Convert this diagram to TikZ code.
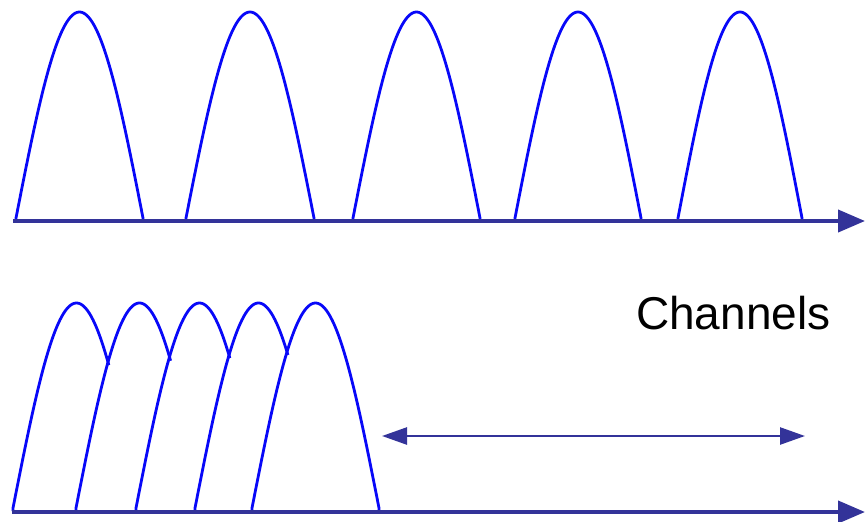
\documentclass[tikz,border=0pt]{standalone}
\usepackage{fontspec}
\setmainfont{Liberation Sans}
\usetikzlibrary{arrows.meta}
\definecolor{axisblue}{HTML}{333399}
\definecolor{pulseblue}{HTML}{0808F8}
\tikzset{
  axisline/.style={draw=axisblue,line width=4pt,-{Triangle[length=27pt,width=22pt]}},
  dblarrow/.style={draw=axisblue,line width=2.5pt,{Triangle[length=25pt,width=17pt]}-{Triangle[length=25pt,width=17pt]}},
  pulse/.style={draw=pulseblue,line width=2.8pt,line join=round},
}
\newcommand{\toppulse}[2]{%
  \draw[pulse] (#1,221) -- plot[domain=0:1,samples=80,variable=\t] ({#1+#2*\t},{218-206*sin(180*\t)}) -- (#1+#2,221);}
\newcommand{\botpulse}[2]{%
  \draw[pulse] (#1,511) -- plot[domain=0:#2,samples=80,variable=\t] ({#1+127*\t},{508-205*sin(180*\t)});}
\begin{document}
\begin{tikzpicture}[x=1pt,y=-1pt]
\useasboundingbox (0,0) rectangle (865,522);
% top pulses
\toppulse{16}{127}
\toppulse{186}{128}
\toppulse{353}{127}
\toppulse{515}{126}
\toppulse{678}{124}
% top axis
\coordinate (ta) at (13,221);
\coordinate (tb) at (865,221);
\draw[axisline] (ta) -- (tb);
% bottom pulses
\botpulse{13}{0.755}
\botpulse{76}{0.745}
\botpulse{136}{0.74}
\botpulse{195}{0.732}
\draw[pulse] (252,511) -- plot[domain=0:1,samples=80,variable=\t] ({252+127*\t},{508-205*sin(180*\t)}) -- (379,511);
% bottom axis
\coordinate (ba) at (12,512);
\coordinate (bb) at (865,512);
\draw[axisline] (ba) -- (bb);
% channels arrow
\coordinate (ca) at (382,436);
\coordinate (cb) at (805,436);
\draw[dblarrow] (ca) -- (cb);
\node[anchor=base west,inner sep=0pt,font=\fontsize{46pt}{50pt}\selectfont] (lbl) at (636,329) {Channels};
\end{tikzpicture}
\end{document}
